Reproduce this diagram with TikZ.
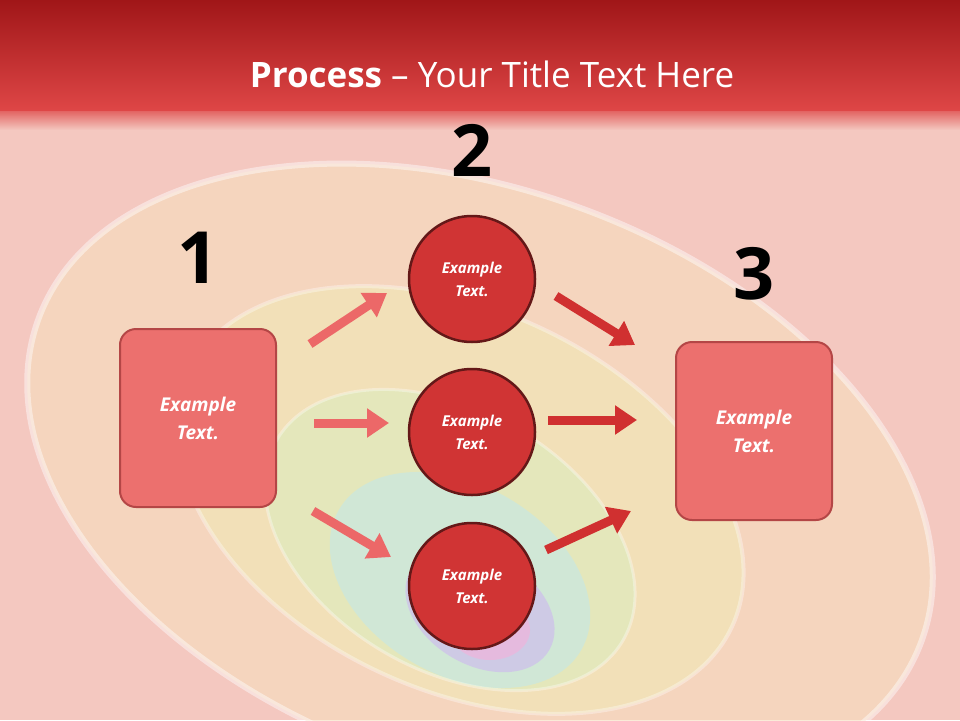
\documentclass[tikz,border=0pt]{standalone}
\usepackage{fontspec}
\setmainfont{Open Sans}
\usetikzlibrary{arrows.meta}
\definecolor{bgpink}{RGB}{244,200,192}
\definecolor{hdrtop}{RGB}{160,22,24}
\definecolor{hdrbot}{RGB}{222,70,70}
\definecolor{boxfill}{RGB}{236,112,110}
\definecolor{boxedge}{RGB}{180,70,70}
\definecolor{circfill}{RGB}{208,52,52}
\definecolor{circedge}{RGB}{100,24,24}
\definecolor{arrlight}{RGB}{236,104,104}
\definecolor{arrdark}{RGB}{208,48,48}
\definecolor{pale1}{RGB}{246,222,190}
\definecolor{pale2}{RGB}{240,232,180}
\definecolor{pale3}{RGB}{220,236,190}
\definecolor{pale4}{RGB}{200,232,226}
\definecolor{pale5}{RGB}{206,190,236}
\definecolor{pale6}{RGB}{240,180,220}
\tikzset{
  x=1pt,y=-1pt,
  rbox/.style={draw=boxedge,line width=2pt,fill=boxfill,rounded corners=16pt,minimum width=156pt,minimum height=178pt,text=white,font=\bfseries\itshape\fontsize{19}{28}\selectfont,align=center},
  circ/.style={circle,draw=circedge,line width=2.5pt,fill=circfill,minimum size=126pt,text=white,font=\bfseries\itshape\fontsize{15}{23}\selectfont,align=center},
  num/.style={font=\bfseries\fontsize{72}{72}\selectfont,text=black},
  blk/.style={line width=9pt,-{Triangle[length=22pt,width=28pt]}},
}
\begin{document}
\begin{tikzpicture}
\useasboundingbox (0,0) rectangle (960,720);
\fill[bgpink] (0,0) rectangle (960,720);
\begin{scope}
\clip (0,0) rectangle (960,720);
\fill[pale1,opacity=0.6,rotate around={-20:(480,480)}] (480,480) ellipse (470 and 290);
\fill[pale2,opacity=0.6,rotate around={-25:(460,500)}] (460,500) ellipse (300 and 190);
\fill[pale3,opacity=0.6,rotate around={-30:(450,540)}] (450,540) ellipse (200 and 130);
\fill[pale4,opacity=0.7,rotate around={-30:(460,580)}] (460,580) ellipse (140 and 95);
\fill[pale5,opacity=0.7,rotate around={-30:(480,610)}] (480,610) ellipse (80 and 55);
\fill[pale6,opacity=0.7] (490,630) ellipse (40 and 30);
\draw[white,opacity=0.45,line width=6pt,rotate around={-20:(480,480)}] (480,480) ellipse (470 and 290);
\draw[white,opacity=0.35,line width=4pt,rotate around={-25:(460,500)}] (460,500) ellipse (300 and 190);
\draw[white,opacity=0.35,line width=3pt,rotate around={-30:(450,540)}] (450,540) ellipse (200 and 130);
\end{scope}
\shade[top color=hdrtop,bottom color=hdrbot] (0,0) rectangle (960,110);
\shade[top color=hdrbot,bottom color=bgpink,opacity=0.8] (0,110) rectangle (960,130);
\node[text=white,font=\fontsize{35}{40}\selectfont] (title) at (492,74) {\textbf{Process} -- Your Title Text Here};
\node[num] (n1) at (198,258) {1};
\node[num] (n2) at (472,150) {2};
\node[num] (n3) at (754,274) {3};
\node[rbox] (b1) at (198,418) {Example\\Text.};
\node[rbox] (b3) at (754,431) {Example\\Text.};
\node[circ] (c1) at (472,279) {Example\\Text.};
\node[circ] (c2) at (472,432) {Example\\Text.};
\node[circ] (c3) at (472,586) {Example\\Text.};
\coordinate (a1s) at (310,344); \coordinate (a1e) at (387,293);
\coordinate (a2s) at (314,423); \coordinate (a2e) at (389,423);
\coordinate (a3s) at (313,511); \coordinate (a3e) at (391,557);
\coordinate (a4s) at (556,296); \coordinate (a4e) at (635,345);
\coordinate (a5s) at (548,420); \coordinate (a5e) at (637,420);
\coordinate (a6s) at (546,550); \coordinate (a6e) at (631,511);
\draw[blk,arrlight] (a1s) -- (a1e);
\draw[blk,arrlight] (a2s) -- (a2e);
\draw[blk,arrlight] (a3s) -- (a3e);
\draw[blk,arrdark] (a4s) -- (a4e);
\draw[blk,arrdark] (a5s) -- (a5e);
\draw[blk,arrdark] (a6s) -- (a6e);
\end{tikzpicture}
\end{document}
